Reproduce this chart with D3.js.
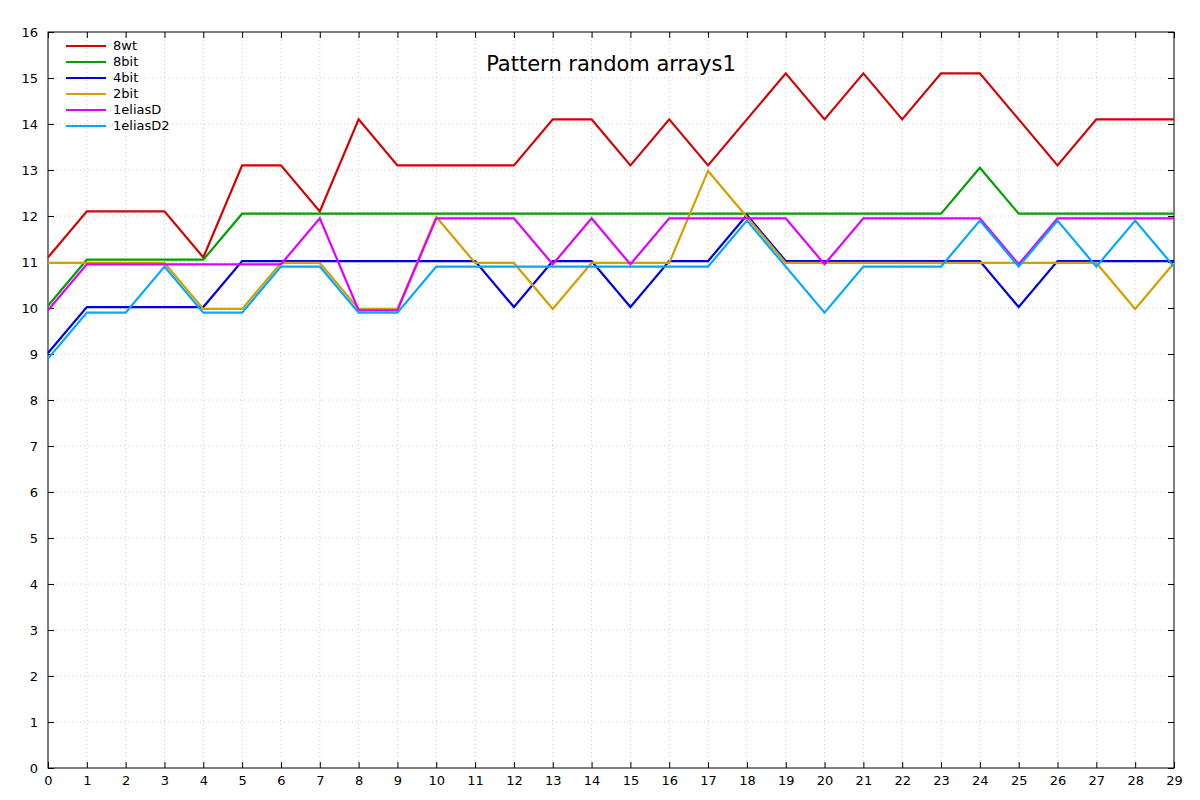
<!DOCTYPE html><html><head><meta charset="utf-8"><script src="https://cdn.jsdelivr.net/npm/d3@7"></script>
<style>body{margin:0;background:#fff}</style></head><body><svg id="c" width="1200" height="800"></svg>
<script>
const xs = d3.range(0,30);
const names = ["8wt","8bit","4bit","2bit","1eliasD","1eliasD2"];
const colors = ["#d40000","#00a000","#0000e0","#d4a000","#e000ff","#00a8ff"];
const s8wt = [11.1,12.1,12.1,12.1,11.1,13.1,13.1,12.1,14.1,13.1,13.1,13.1,13.1,14.1,14.1,13.1,14.1,13.1,14.1,15.1,14.1,15.1,14.1,15.1,15.1,14.1,13.1,14.1,14.1,14.1];
const s8bit = [10.05,11.05,11.05,11.05,11.05,12.05,12.05,12.05,12.05,12.05,12.05,12.05,12.05,12.05,12.05,12.05,12.05,12.05,12.05,12.05,12.05,12.05,12.05,12.05,13.05,12.05,12.05,12.05,12.05,12.05];
const s4bit = [9.02,10.02,10.02,10.02,10.02,11.02,11.02,11.02,11.02,11.02,11.02,11.02,10.02,11.02,11.02,10.02,11.02,11.02,12.02,11.02,11.02,11.02,11.02,11.02,11.02,10.02,11.02,11.02,11.02,11.02];
const s2bit = [10.98,10.98,10.98,10.98,9.98,9.98,10.98,10.98,9.98,9.98,11.98,10.98,10.98,9.98,10.98,10.98,10.98,12.98,11.98,10.98,10.98,10.98,10.98,10.98,10.98,10.98,10.98,10.98,9.98,10.98];
const sEliasD = [9.95,10.95,10.95,10.95,10.95,10.95,10.95,11.95,9.95,9.95,11.95,11.95,11.95,10.95,11.95,10.95,11.95,11.95,11.95,11.95,10.95,11.95,11.95,11.95,11.95,10.95,11.95,11.95,11.95,11.95];
const sEliasD2 = [8.9,9.9,9.9,10.9,9.9,9.9,10.9,10.9,9.9,9.9,10.9,10.9,10.9,10.9,10.9,10.9,10.9,10.9,11.9,10.9,9.9,10.9,10.9,10.9,11.9,10.9,11.9,10.9,11.9,10.9];
const series = [s8wt,s8bit,s4bit,s2bit,sEliasD,sEliasD2];
const yTicks = d3.range(0,17);
const title = "Pattern random arrays1";

const svg = d3.select("#c");
const L=48,R=1174,T=32,B=768;
const x = d3.scaleLinear().domain([0,29]).range([L,R]);
const y = d3.scaleLinear().domain([0,16]).range([B,T]);
const font="DejaVu Sans, sans-serif";
// grid
svg.append("g").selectAll("line").data(xs.slice(1,-1)).join("line")
 .attr("x1",d=>x(d)).attr("x2",d=>x(d)).attr("y1",T).attr("y2",B)
 .attr("stroke","#ccc").attr("stroke-dasharray","1,3");
svg.append("g").selectAll("line").data(yTicks.slice(1,-1)).join("line")
 .attr("y1",d=>y(d)).attr("y2",d=>y(d)).attr("x1",L).attr("x2",R)
 .attr("stroke","#ccc").attr("stroke-dasharray","1,3");
svg.append("rect").attr("x",L).attr("y",T).attr("width",R-L).attr("height",B-T).attr("fill","none").attr("stroke","#000");
const ax = svg.append("g").attr("transform",`translate(0,${B})`).call(d3.axisBottom(x).tickValues(xs).tickFormat(d3.format("d")).tickSize(-6).tickPadding(10));
const ay = svg.append("g").attr("transform",`translate(${L},0)`).call(d3.axisLeft(y).tickValues(yTicks).tickSize(-6).tickPadding(10));
svg.append("g").attr("transform",`translate(0,${T})`).call(d3.axisTop(x).tickValues(xs).tickFormat("").tickSize(-6));
svg.append("g").attr("transform",`translate(${R},0)`).call(d3.axisRight(y).tickValues(yTicks).tickFormat("").tickSize(-6));
svg.selectAll(".domain").remove();
svg.selectAll(".tick text").attr("font-family",font).attr("font-size",13).attr("fill","#000");
ax.selectAll(".tick text").attr("dy","0.5em");
const line = d3.line().x((d,i)=>x(i)).y(d=>y(d));
series.forEach((s,i)=>svg.append("path").attr("d",line(s)).attr("fill","none").attr("stroke",colors[i]).attr("stroke-width",2.2));
const lg = svg.append("g");
names.forEach((n,i)=>{
 lg.append("line").attr("x1",66).attr("x2",106).attr("y1",46+i*16).attr("y2",46+i*16).attr("stroke",colors[i]).attr("stroke-width",2.2);
 lg.append("text").attr("x",113).attr("y",50+i*16).text(n).attr("font-family",font).attr("font-size",13);
});
svg.append("text").attr("x",611).attr("y",71).attr("text-anchor","middle").attr("font-family",font).attr("font-size",21).text(title);
</script></body></html>
